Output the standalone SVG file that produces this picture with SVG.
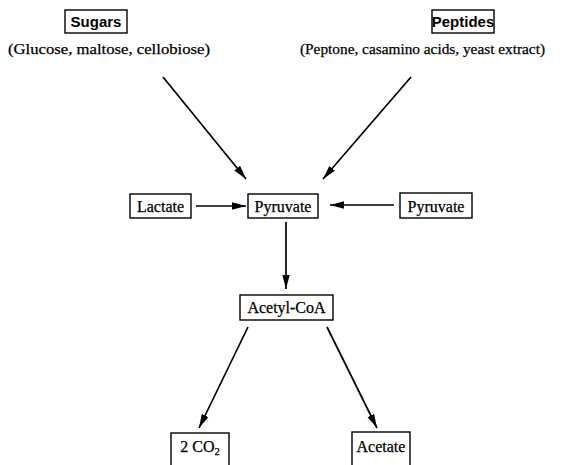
<svg xmlns="http://www.w3.org/2000/svg" width="572" height="465" viewBox="0 0 572 465">
<style>
  .box { fill: #fff; stroke: #000; stroke-width: 1.4; }
  .t { font-family: "Liberation Serif", "Times New Roman", serif; font-size: 16px; fill: #000; stroke: #000; stroke-width: 0.25; text-anchor: middle; }
  .p { font-size: 15.5px; }
  .b { font-weight: bold; font-family: "Liberation Sans", Arial, sans-serif; font-size: 15px; stroke-width: 0; }
  .edge { stroke: #000; stroke-width: 1.7; fill: none; marker-end: url(#ah); }
</style>
<defs>
  <marker id="ah" markerUnits="userSpaceOnUse" markerWidth="16" markerHeight="10" refX="14" refY="5" orient="auto">
    <path d="M0,1.3 L14,5 L0,8.7 Z" fill="#000"/>
  </marker>
</defs>
<rect width="572" height="465" fill="#fff"/>
<g id="sugars">
  <rect class="box" x="65" y="10" width="62" height="23"/>
  <text class="t b" x="96" y="27">Sugars</text>
  <text class="t p" x="109" y="54" textLength="202" lengthAdjust="spacingAndGlyphs">(Glucose, maltose, cellobiose)</text>
</g>
<g id="peptides">
  <rect class="box" x="432" y="10" width="62" height="23"/>
  <text class="t b" x="463" y="27">Peptides</text>
  <text class="t p" x="422.5" y="54" textLength="245" lengthAdjust="spacingAndGlyphs">(Peptone, casamino acids, yeast extract)</text>
</g>
<g id="lactate">
  <rect class="box" x="130" y="194" width="61" height="24"/>
  <text class="t" x="160.5" y="211.5">Lactate</text>
</g>
<g id="pyruvate-center">
  <rect class="box" x="248" y="194" width="70" height="24"/>
  <text class="t" x="283" y="211.5">Pyruvate</text>
</g>
<g id="pyruvate-right">
  <rect class="box" x="400" y="193" width="72" height="25"/>
  <text class="t" x="436" y="211.5">Pyruvate</text>
</g>
<g id="acetyl-coa">
  <rect class="box" x="240" y="295" width="93" height="25"/>
  <text class="t" x="286.5" y="313">Acetyl-CoA</text>
</g>
<g id="co2">
  <rect class="box" x="171" y="433" width="58" height="40"/>
  <text class="t" x="200" y="452">2 CO<tspan font-size="10.5" dy="3">2</tspan></text>
</g>
<g id="acetate">
  <rect class="box" x="352" y="432" width="58" height="40"/>
  <text class="t" x="381" y="452">Acetate</text>
</g>
<g id="connectors">
  <line class="edge" x1="163" y1="77" x2="246" y2="179"/>
  <line class="edge" x1="411" y1="77" x2="323" y2="179"/>
  <line class="edge" x1="196" y1="206" x2="246" y2="206"/>
  <line class="edge" x1="394" y1="205" x2="330" y2="205"/>
  <line class="edge" x1="286" y1="222" x2="286" y2="289"/>
  <line class="edge" x1="248" y1="327" x2="199" y2="428"/>
  <line class="edge" x1="327" y1="327" x2="377" y2="428"/>
</g>
</svg>
